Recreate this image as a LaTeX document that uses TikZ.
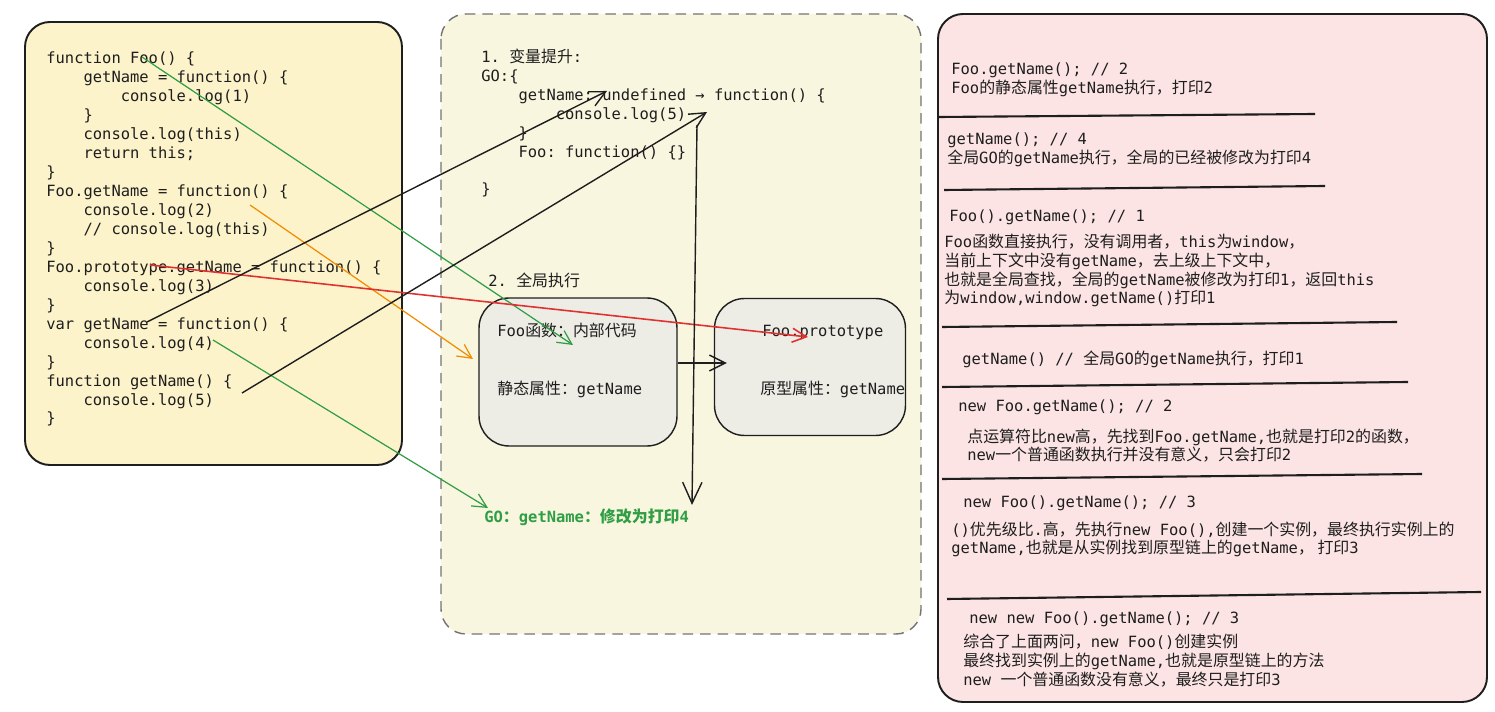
\documentclass[tikz,border=0pt]{standalone}
\usepackage{fontspec}
\setmonofont{DejaVu Sans Mono}
\newfontfamily\cjk[Scale=1.03]{Noto Sans CJK SC}
\usetikzlibrary{arrows.meta,positioning}

\definecolor{ink}{HTML}{1E1E1E}
\definecolor{codefill}{HTML}{FDF3CB}
\definecolor{midfill}{HTML}{F9F6E0}
\definecolor{notefill}{HTML}{FCE4E4}
\definecolor{cardfill}{HTML}{EEEDE5}
\definecolor{jsgreen}{HTML}{2F9E44}
\definecolor{jsorange}{HTML}{F08C00}
\definecolor{jsred}{HTML}{E03131}

\newcommand\zh[1]{{\cjk #1}}
\newcommand\tb{\phantom{0000}}

\begin{document}
\begin{tikzpicture}[x=0.02cm,y=-0.02cm,
    % multi-line nodes sit on the baseline of their last line
    code/.style={anchor=base west, align=left, inner sep=0pt, text=ink,
      font=\ttfamily\fontsize{8.8}{10.8}\selectfont},
    panel/.style={rounded corners=0.5cm, line width=1.1pt},
    card/.style={draw=ink, line width=0.8pt, rounded corners=0.6cm, fill=cardfill},
    sep/.style={draw=ink, line width=1.2pt},
    barb/.style={-{Straight Barb[length=9pt,width=9pt]}, line width=0.8pt, draw=ink},
    cbarb/.style={-{Straight Barb[length=8pt,width=8pt]}, line width=0.7pt},
  ]
  \useasboundingbox (0,0) rectangle (1495,712);

  % the three panels
  \draw[panel, draw=ink, fill=codefill] (25,22) rectangle (402,465);
  \draw[panel, draw=black!55, fill=midfill, line width=0.8pt,
    dash pattern=on 6pt off 4pt] (441,14) rectangle (921,634);
  \draw[panel, draw=ink, fill=notefill] (938,14) rectangle (1487,702);

  % source code
  \node[code] (src) at (46,424) {%
    function Foo() \{\\
    \tb getName = function() \{\\
    \tb\tb console.log(1)\\
    \tb \}\\
    \tb console.log(this)\\
    \tb return this;\\
    \}\\
    Foo.getName = function() \{\\
    \tb console.log(2)\\
    \tb // console.log(this)\\
    \}\\
    Foo.prototype.getName = function() \{\\
    \tb console.log(3)\\
    \}\\
    var getName = function() \{\\
    \tb console.log(4)\\
    \}\\
    function getName() \{\\
    \tb console.log(5)\\
    \}};

  % hoisting
  \node[code] (hoist) at (481,195) {%
    1. \zh{变量提升}:\\
    GO:\{\\
    \tb getName: undefined → function() \{\\
    \tb\tb console.log(5)\\
    \tb \}\\
    \tb Foo: function() \{\}\\[10.8pt]
    \}};

  \node[code] (run) at (488,287) {2. \zh{全局执行}};

  \node[card, minimum width=3.96cm, minimum height=2.96cm] (foo) at (578,372) {};
  \node[code] (fooa) at (497,337) {Foo\zh{函数：内部代码}};
  \node[code] (foob) at (497,395) {\zh{静态属性：}getName};

  \node[card, minimum width=3.82cm, minimum height=2.74cm] (proto) at (810,367) {};
  \node[code] (protoa) at (762,337) {Foo.prototype};
  \node[code] (protob) at (760,395) {\zh{原型属性：}getName};

  \node[code, text=jsgreen, font=\ttfamily\bfseries\fontsize{8.8}{10.8}\selectfont]
    (goname) at (484,523) {GO\zh{：}getName\zh{：修改为打印}4};

  % answers
  \node[code] (q1) at (951,75) {Foo.getName(); // 2};
  \node[code] (a1) at (951,94) {Foo\zh{的静态属性}getName\zh{执行，打印}2};
  \draw[sep] (939,117) -- (1315,114);

  \node[code] (q2) at (947,145) {getName(); // 4};
  \node[code] (a2) at (947,164) {\zh{全局}GO\zh{的}getName\zh{执行，全局的已经被修改为打印}4};
  \draw[sep] (944,190) -- (1325,186);

  \node[code] (q3) at (949,222) {Foo().getName(); // 1};
  \node[code] (a3) at (944,304) {%
    Foo\zh{函数直接执行，没有调用者，}this\zh{为}window\zh{，}\\
    \zh{当前上下文中没有}getName\zh{，去上级上下文中，}\\
    \zh{也就是全局查找，全局的}getName\zh{被修改为打印}1\zh{，返回}this\\
    \zh{为}window,window.getName()\zh{打印}1};
  \draw[sep] (942,327) -- (1397,322);

  \node[code] (q4) at (962,365) {getName() // \zh{全局}GO\zh{的}getName\zh{执行，打印}1};
  \draw[sep] (942,387) -- (1408,382);

  \node[code] (q5) at (958,412) {new Foo.getName(); // 2};
  \node[code] (a5) at (967,461) {%
    \zh{点运算符比}new\zh{高，先找到}Foo.getName,\zh{也就是打印}2\zh{的函数，}\\
    new\zh{一个普通函数执行并没有意义，只会打印}2};
  \draw[sep] (942,479) -- (1422,474);

  \node[code] (q6) at (963,508) {new Foo().getName(); // 3};
  \node[code] (a6) at (951,554) {%
    ()\zh{优先级比}.\zh{高，先执行}new Foo(),\zh{创建一个实例，最终执行实例上的}\\
    getName,\zh{也就是从实例找到原型链上的}getName\zh{， 打印}3};
  \draw[sep] (947,599) -- (1481,592);

  \node[code] (q7) at (969,624) {new new Foo().getName(); // 3};
  \node[code] (a7) at (963,685) {%
    \zh{综合了上面两问，}new Foo()\zh{创建实例}\\
    \zh{最终找到实例上的}getName,\zh{也就是原型链上的方法}\\
    new \zh{一个普通函数没有意义，最终只是打印}3};

  % links from the code
  \coordinate (fooname) at (142,57);
  \coordinate (logtwo) at (250,205);
  \coordinate (protoname) at (150,265);
  \coordinate (varname) at (147,322);
  \coordinate (logfour) at (213,340);
  \coordinate (logfive) at (242,393);
  \coordinate (undef) at (607,91);
  \coordinate (fnbody) at (707,112);
  \coordinate (fntop) at (697,125);
  \coordinate (foobody) at (573,345);
  \coordinate (statictip) at (473,359);
  \coordinate (prototip) at (808,337);
  \coordinate (gotip) at (488,508);
  \coordinate (godown) at (692,505);

  \draw[cbarb, jsgreen] (fooname) -- (foobody);
  \draw[cbarb, jsorange] (logtwo) -- (statictip);
  \draw[cbarb, jsred, line width=0.9pt] (protoname) -- (prototip);
  \draw[barb] (varname) -- (undef);
  \draw[cbarb, jsgreen] (logfour) -- (gotip);
  \draw[barb] (logfive) -- (fnbody);
  \draw[barb, -{Straight Barb[length=12pt,width=11pt]}] (fntop) -- (godown);
  \draw[barb, shorten >=-0.26cm] ([yshift=0.18cm]foo.east) -- ([yshift=0.18cm]foo.east -| proto.west);
\end{tikzpicture}
\end{document}
